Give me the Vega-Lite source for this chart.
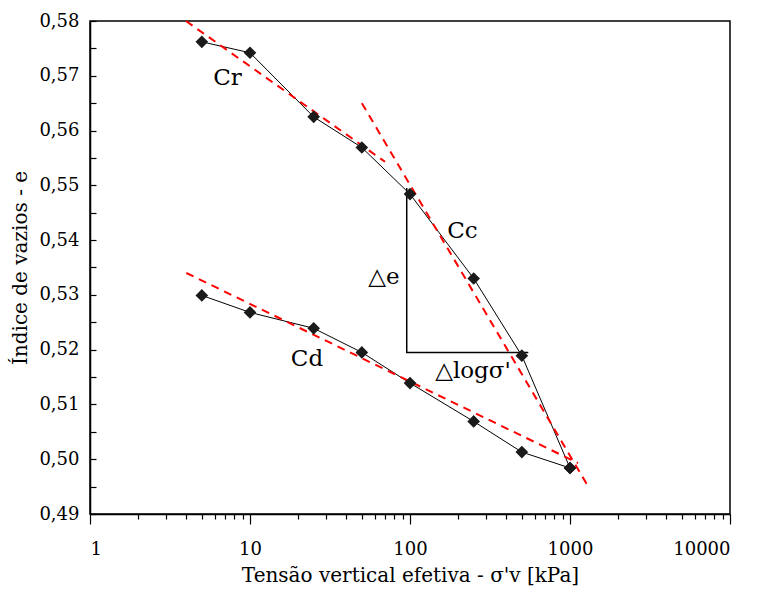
{
  "$schema": "https://vega.github.io/schema/vega-lite/v6.json",
  "width": 640,
  "height": 493,
  "autosize": {"type": "none"},
  "padding": {"left": 90, "top": 21, "right": 28, "bottom": 75},
  "background": "white",
  "config": {
    "view": {"stroke": "black", "strokeWidth": 1.5},
    "font": "DejaVu Serif",
    "axis": {
      "grid": false,
      "domainColor": "black",
      "tickColor": "black",
      "labelColor": "black",
      "titleColor": "black",
      "labelFont": "DejaVu Serif",
      "titleFont": "DejaVu Serif",
      "labelFontSize": 18,
      "titleFontSize": 20,
      "titleFontWeight": "normal",
      "domainWidth": 1.5,
      "tickWidth": 1.2
    }
  },
  "datasets": {
    "points": [
      {"series": "loading", "sigma": 5, "e": 0.5762},
      {"series": "loading", "sigma": 10, "e": 0.5742},
      {"series": "loading", "sigma": 25, "e": 0.5625},
      {"series": "loading", "sigma": 50, "e": 0.5569},
      {"series": "loading", "sigma": 100, "e": 0.5484},
      {"series": "loading", "sigma": 250, "e": 0.5330},
      {"series": "loading", "sigma": 500, "e": 0.5189},
      {"series": "loading", "sigma": 1000, "e": 0.4984},
      {"series": "unloading", "sigma": 5, "e": 0.5299},
      {"series": "unloading", "sigma": 10, "e": 0.5268},
      {"series": "unloading", "sigma": 25, "e": 0.5239},
      {"series": "unloading", "sigma": 50, "e": 0.5195},
      {"series": "unloading", "sigma": 100, "e": 0.5139},
      {"series": "unloading", "sigma": 250, "e": 0.5069},
      {"series": "unloading", "sigma": 500, "e": 0.5013},
      {"series": "unloading", "sigma": 1000, "e": 0.4984}
    ],
    "fits": [
      {"fit": "Cr", "sigma": 3.98, "e": 0.5800},
      {"fit": "Cr", "sigma": 69.8, "e": 0.5543},
      {"fit": "Cc", "sigma": 50, "e": 0.5650},
      {"fit": "Cc", "sigma": 1271, "e": 0.4955},
      {"fit": "Cd", "sigma": 4.0, "e": 0.5340},
      {"fit": "Cd", "sigma": 1122, "e": 0.4993}
    ],
    "triangle": [
      {"k": 1, "sigma": 95.4, "e": 0.5495},
      {"k": 2, "sigma": 95.4, "e": 0.5195},
      {"k": 3, "sigma": 548.7, "e": 0.5195}
    ],
    "labels": [
      {"label": "Cr", "sigma": 7.23, "e": 0.5696},
      {"label": "Cc", "sigma": 212.8, "e": 0.5417},
      {"label": "Cd", "sigma": 22.7, "e": 0.5183},
      {"label": "△e", "sigma": 68.8, "e": 0.5333},
      {"label": "△logσ'", "sigma": 247.6, "e": 0.5161}
    ],
    "minor": [
      {"sigma": 2, "e": 0.49}
    ]
  },
  "encoding": {
    "x": {
      "field": "sigma",
      "type": "quantitative",
      "scale": {"type": "log", "domain": [1, 10000], "nice": false},
      "axis": null
    },
    "y": {
      "field": "e",
      "type": "quantitative",
      "scale": {"domain": [0.49, 0.58], "nice": false, "zero": false},
      "axis": {
        "title": "Índice de vazios - e",
        "values": [0.49, 0.495, 0.5, 0.505, 0.51, 0.515, 0.52, 0.525, 0.53, 0.535, 0.54, 0.545, 0.55, 0.555, 0.56, 0.565, 0.57, 0.575, 0.58],
        "labelExpr": "round(datum.value*1000) % 10 == 0 ? replace(format(datum.value, '.2f'), '.', ',') : ''",
        "tickSize": -6,
        "labelPadding": 17,
        "titlePadding": 8
      }
    }
  },
  "resolve": {"axis": {"x": "independent"}},
  "layer": [
    {
      "data": {"name": "points"},
      "mark": {"type": "line", "color": "black", "strokeWidth": 1},
      "encoding": {
        "x": {
          "field": "sigma",
          "type": "quantitative",
          "scale": {"type": "log", "domain": [1, 10000], "nice": false},
          "axis": {
            "orient": "bottom",
            "title": "Tensão vertical efetiva - σ'v [kPa]",
            "values": [1, 10, 100, 1000, 10000],
            "labelExpr": "format(datum.value, 'd')",
            "tickSize": 10,
            "labelPadding": 16,
            "titlePadding": 7
          }
        },
        "detail": {"field": "series"}
      }
    },
    {
      "data": {"name": "minor"},
      "mark": {"type": "point", "opacity": 0},
      "encoding": {
        "x": {
          "field": "sigma",
          "type": "quantitative",
          "scale": {"type": "log", "domain": [1, 10000], "nice": false},
          "axis": {
            "orient": "bottom",
            "title": null,
            "values": [2, 3, 4, 5, 6, 7, 8, 9, 20, 30, 40, 50, 60, 70, 80, 90, 200, 300, 400, 500, 600, 700, 800, 900, 2000, 3000, 4000, 5000, 6000, 7000, 8000, 9000],
            "labels": false,
            "domain": false,
            "tickSize": 5
          }
        }
      }
    },
    {
      "data": {"name": "fits"},
      "mark": {"type": "line", "color": "#ff0000", "strokeWidth": 2, "strokeDash": [8, 6]},
      "encoding": {"detail": {"field": "fit"}}
    },
    {
      "data": {"name": "triangle"},
      "mark": {"type": "line", "color": "black", "strokeWidth": 1.5},
      "encoding": {"order": {"field": "k"}}
    },
    {
      "data": {"name": "points"},
      "mark": {"type": "point", "shape": "diamond", "filled": true, "color": "#1a1a1a", "size": 160, "opacity": 1}
    },
    {
      "data": {"name": "labels"},
      "mark": {"type": "text", "fontSize": 23, "color": "black", "align": "center", "baseline": "middle"},
      "encoding": {"text": {"field": "label"}}
    }
  ]
}
